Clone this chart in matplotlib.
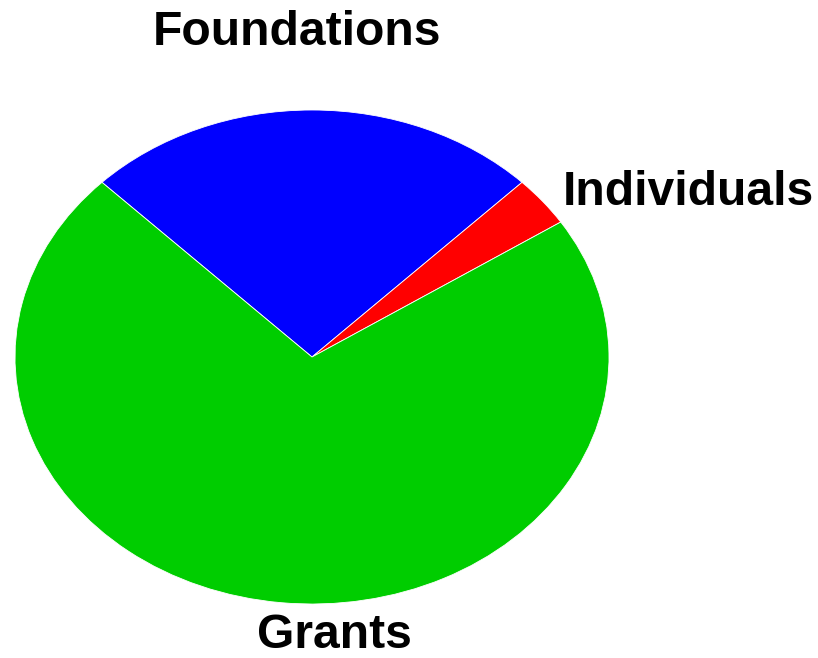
import matplotlib
matplotlib.use("Agg")
from matplotlib import pyplot as plt

labels = ["Foundations", "Individuals", "Grants"]
shares = [25.0, 3.3, 71.7]
colors = ["#0000FF", "#FF0000", "#00CD00"]

W, H = 818, 658
cx, cy = 312, 357      # pie centre, pixels from top-left
rx, ry = 297, 247      # ellipse radii in pixels

fig = plt.figure(figsize=(W / 100, H / 100), dpi=100)
ax = fig.add_axes([0, 0, 1, 1])
ax.pie(shares, colors=colors, startangle=135, counterclock=False,
       wedgeprops=dict(edgecolor="white", linewidth=0.6))
ax.set_aspect("auto")
ax.set_xlim(-cx / rx, (W - cx) / rx)
ax.set_ylim(-(H - cy) / ry, cy / ry)
ax.axis("off")


def px(x, y):
    return (x - cx) / rx, (cy - y) / ry


font = dict(fontsize=34.6, fontweight="bold", family="Liberation Sans", va="baseline")
ax.text(*px(296.5, 45), labels[0], ha="center", **font)
ax.text(*px(563, 205), labels[1], ha="left", **font)
ax.text(*px(334, 648), labels[2], ha="center", **font)

fig.savefig("out.png", dpi=100)
